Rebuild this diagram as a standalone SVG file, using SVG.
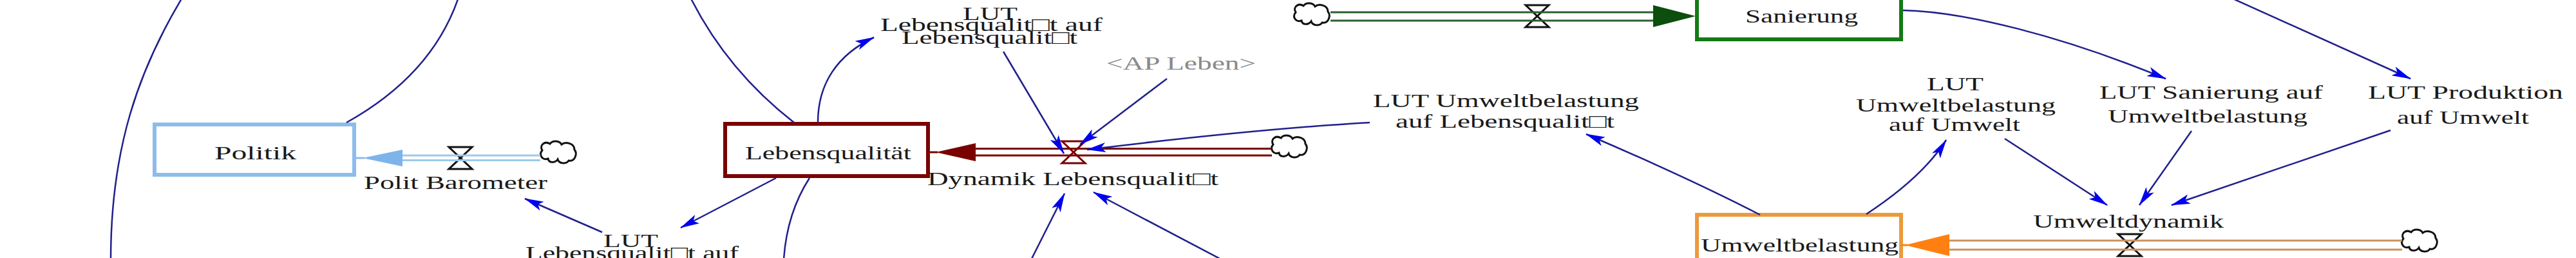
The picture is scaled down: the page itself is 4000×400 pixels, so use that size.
<svg xmlns="http://www.w3.org/2000/svg" width="4000" height="400" viewBox="0 0 4000 400">
<style>
.t{font-family:"Liberation Serif","Times New Roman",serif;font-size:30px;fill:#1a1a1a}
.ghost{fill:#8a8a8a}
.link{fill:none;stroke:#20208c;stroke-width:2.5}
.arr{marker-end:url(#ah)}
.valve{fill:none;stroke:#111;stroke-width:3;stroke-linejoin:miter}
.cloud{fill:#fff;stroke:#111;stroke-width:3}
.box{fill:#fff;stroke-width:6}
.pipe{fill:none;stroke-width:3}
</style>
<defs>
<marker id="ah" viewBox="0 0 30 17" refX="29" refY="8.5" markerWidth="30" markerHeight="17" markerUnits="userSpaceOnUse" orient="auto">
<path d="M0,1 L30,8.5 L0,16 L7,8.5 Z" fill="#0000ee"/>
</marker>
<path id="cloudp" d="M-24,-4 C-29,-12 -20,-19 -12,-14 C-8,-20 3,-19 6,-13 C12,-18 26,-15 26,-5 C31,1 27,14 17,12 C13,18 2,17 0,10 C-4,16 -14,16 -15,9 C-24,12 -30,3 -24,-4 Z"/>
<path id="valvep" d="M-18,-17 H18 L-18,17 H18 Z"/>
</defs>
<rect width="4000" height="400" fill="#fff"/>

<g id="politik">
<rect class="box" x="240" y="193" width="310" height="78" stroke="#8cbdea"/>
<text class="t" x="333" y="247" textLength="127" lengthAdjust="spacingAndGlyphs">Politik</text>
</g>
<g id="polit-barometer">
<use href="#valvep" class="valve" x="715" y="245"/>
<text class="t" x="565" y="293" textLength="285" lengthAdjust="spacingAndGlyphs">Polit Barometer</text>
</g>
<g id="cloud-politik"><use href="#cloudp" class="cloud" x="866" y="237"/></g>

<g id="lut-lebensqualitaet-politik">
<text class="t" x="937" y="383" textLength="85" lengthAdjust="spacingAndGlyphs">LUT</text>
<text class="t" x="816" y="402" textLength="331" lengthAdjust="spacingAndGlyphs">Lebensqualit□t auf</text>
</g>

<g id="lebensqualitaet">
<rect class="box" x="1126" y="192" width="315" height="81" stroke="#7a0000"/>
<text class="t" x="1157" y="247" textLength="258" lengthAdjust="spacingAndGlyphs">Lebensqualität</text>
</g>

<g id="lut-lebensqualitaet">
<text class="t" x="1495" y="31" textLength="85" lengthAdjust="spacingAndGlyphs">LUT</text>
<text class="t" x="1367" y="48" textLength="345" lengthAdjust="spacingAndGlyphs">Lebensqualit□t auf</text>
<text class="t" x="1400" y="68" textLength="273" lengthAdjust="spacingAndGlyphs">Lebensqualit□t</text>
</g>

<g id="ap-leben">
<text class="t ghost" x="1718" y="108" textLength="232" lengthAdjust="spacingAndGlyphs">&lt;AP Leben&gt;</text>
</g>

<g id="dynamik-lebensqualitaet">
<use href="#valvep" class="valve" x="1667" y="236" style="stroke:#7a0000"/>
<text class="t" x="1440" y="287" textLength="452" lengthAdjust="spacingAndGlyphs">Dynamik Lebensqualit□t</text>
</g>
<g id="cloud-leben"><use href="#cloudp" class="cloud" x="2001" y="228"/></g>

<g id="lut-umweltbelastung-lebensqualitaet">
<text class="t" x="2132" y="166" textLength="413" lengthAdjust="spacingAndGlyphs">LUT Umweltbelastung</text>
<text class="t" x="2167" y="198" textLength="340" lengthAdjust="spacingAndGlyphs">auf Lebensqualit□t</text>
</g>

<g id="cloud-sanierung"><use href="#cloudp" class="cloud" x="2036" y="23"/></g>
<g id="sanierung-flow">
<use href="#valvep" class="valve" x="2387" y="25"/>
</g>
<g id="sanierung">
<rect class="box" x="2635" y="-22" width="317" height="83" stroke="#157a15"/>
<text class="t" x="2710" y="35" textLength="175" lengthAdjust="spacingAndGlyphs">Sanierung</text>
</g>

<g id="umweltbelastung">
<rect class="box" x="2635" y="333" width="317" height="83" stroke="#eb9a3c"/>
<text class="t" x="2641" y="390" textLength="307" lengthAdjust="spacingAndGlyphs">Umweltbelastung</text>
</g>

<g id="lut-umweltbelastung-umwelt">
<text class="t" x="2992" y="140" textLength="88" lengthAdjust="spacingAndGlyphs">LUT</text>
<text class="t" x="2882" y="173" textLength="310" lengthAdjust="spacingAndGlyphs">Umweltbelastung</text>
<text class="t" x="2933" y="203" textLength="204" lengthAdjust="spacingAndGlyphs">auf Umwelt</text>
</g>

<g id="lut-sanierung-umweltbelastung">
<text class="t" x="3260" y="153" textLength="347" lengthAdjust="spacingAndGlyphs">LUT Sanierung auf</text>
<text class="t" x="3273" y="190" textLength="310" lengthAdjust="spacingAndGlyphs">Umweltbelastung</text>
</g>

<g id="lut-produktion-umwelt">
<text class="t" x="3677" y="153" textLength="303" lengthAdjust="spacingAndGlyphs">LUT Produktion</text>
<text class="t" x="3722" y="192" textLength="205" lengthAdjust="spacingAndGlyphs">auf Umwelt</text>
</g>

<g id="umweltdynamik">
<use href="#valvep" class="valve" x="3307" y="380"/>
<text class="t" x="3157" y="353" textLength="296" lengthAdjust="spacingAndGlyphs">Umweltdynamik</text>
</g>
<g id="cloud-umwelt"><use href="#cloudp" class="cloud" x="3756" y="374"/></g>

<g id="connectors">
<!-- flows -->
<path class="pipe" stroke="#9ec9ec" d="M620,241 H839 M620,248.5 H839"/>
<path d="M552,245 H566" stroke="#8cbdea" stroke-width="3"/>
<polygon points="563,245 625,232 625,258" fill="#7db4ea"/>

<path class="pipe" stroke="#7a0000" stroke-width="2.5" d="M1510,230.5 H1975 M1510,241 H1975"/>
<path d="M1441,236 H1456" stroke="#7a0000" stroke-width="3"/>
<polygon points="1453,236 1515,222 1515,250" fill="#7a0000"/>

<path class="pipe" stroke="#2c5e2c" d="M2066,19 H2572 M2066,32 H2572"/>
<polygon points="2633,25 2567,8 2567,42" fill="#0d4d0d"/>

<path class="pipe" stroke="#c8935c" d="M3024,373 H3730 M3024,387 H3730"/>
<path d="M2952,380 H2962" stroke="#ff8010" stroke-width="3"/>
<polygon points="2958,380 3027,363 3027,397" fill="#ff8010"/>

<!-- information links -->
<path class="link" d="M282,-2 C215,110 172,230 172,402"/>
<path class="link" d="M538,190 C610,150 680,90 712,-4"/>
<path class="link" d="M1073,-2 Q1130,110 1233,190"/>
<path class="link arr" d="M1270,190 C1270,130 1300,85 1357,58"/>
<path class="link arr" d="M1205,276 L1057,353"/>
<path class="link" d="M1257,276 Q1222,330 1217,402"/>
<path class="link arr" d="M935,360 L815,308"/>
<path class="link arr" d="M1558,80 L1652,238"/>
<path class="link arr" d="M1812,122 L1677,224"/>
<path class="link arr" d="M2127,190 Q1950,200 1688,232"/>
<path class="link arr" d="M1600,405 L1653,300"/>
<path class="link arr" d="M1896,402 L1698,298"/>
<path class="link arr" d="M2733,333 Q2620,275 2463,208"/>
<path class="link arr" d="M2898,332 Q2985,275 3022,217"/>
<path class="link arr" d="M2955,16 C3050,18 3200,55 3363,122"/>
<path class="link arr" d="M3113,215 L3272,318"/>
<path class="link arr" d="M3403,203 L3322,318"/>
<path class="link arr" d="M3712,202 L3372,318"/>
<path class="link arr" d="M3465,-3 L3743,122"/>
</g>
</svg>
